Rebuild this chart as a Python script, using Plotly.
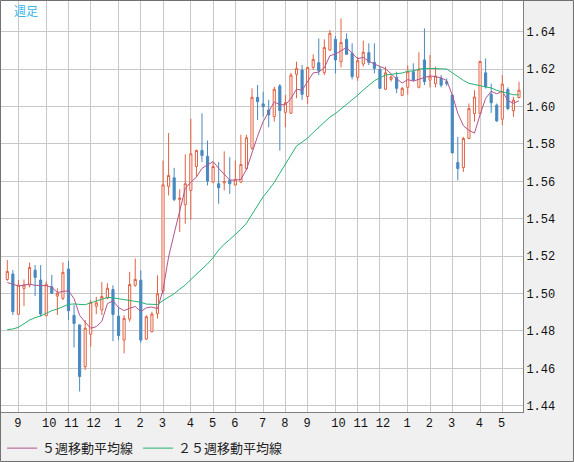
import pandas as pd
import plotly.graph_objects as go

# weekly candles (oldest first)
opens = [1.5075, 1.5104, 1.4889, 1.5027, 1.5045, 1.5125, 1.5072, 1.4881, 1.5036, 1.4986,
         1.4974, 1.5131, 1.4883, 1.4832, 1.4609, 1.4782, 1.4932, 1.4912, 1.4975, 1.5021,
         1.4879, 1.4751, 1.4863, 1.5044, 1.5071, 1.4756, 1.4796, 1.4892, 1.5013, 1.5573,
         1.5619, 1.5503, 1.5475, 1.5551, 1.5679, 1.5765, 1.5733, 1.5596, 1.5587, 1.5592,
         1.5605, 1.5580, 1.5596, 1.5667, 1.5777, 1.6049, 1.6014, 1.5981, 1.5946, 1.6110,
         1.5969, 1.5964, 1.6172, 1.6195, 1.6053, 1.6209, 1.6234, 1.6181, 1.6302, 1.6359,
         1.6240, 1.6359, 1.6284, 1.6156, 1.6227, 1.6288, 1.6236, 1.6199, 1.6092, 1.6145,
         1.6156, 1.6060, 1.6103, 1.6186, 1.6103, 1.6249, 1.6141, 1.6123, 1.6150, 1.6132,
         1.6061, 1.5700, 1.5673, 1.5829, 1.5962, 1.5962, 1.6180, 1.6066, 1.6007, 1.5932,
         1.6091, 1.5977, 1.6048]
highs = [1.5179, 1.5125, 1.5072, 1.5075, 1.5166, 1.5152, 1.5152, 1.5065, 1.5099, 1.5027,
         1.5166, 1.5175, 1.4938, 1.4835, 1.4858, 1.4965, 1.4982, 1.5061, 1.5055, 1.5044,
         1.4929, 1.4884, 1.5116, 1.5187, 1.5124, 1.4884, 1.4902, 1.5097, 1.5711, 1.5858,
         1.5672, 1.5557, 1.5744, 1.5934, 1.5770, 1.5964, 1.5818, 1.5702, 1.5703, 1.5760,
         1.5729, 1.5711, 1.5849, 1.5849, 1.6097, 1.6115, 1.6079, 1.6035, 1.6106, 1.6120,
         1.6062, 1.6180, 1.6240, 1.6222, 1.6212, 1.6279, 1.6364, 1.6359, 1.6409, 1.6377,
         1.6471, 1.6391, 1.6338, 1.6266, 1.6352, 1.6338, 1.6338, 1.6213, 1.6213, 1.6168,
         1.6186, 1.6106, 1.6220, 1.6231, 1.6290, 1.6418, 1.6275, 1.6213, 1.6168, 1.6150,
         1.6065, 1.5837, 1.5837, 1.6016, 1.6087, 1.6245, 1.6257, 1.6123, 1.6016, 1.6168,
         1.6102, 1.6052, 1.6132]
lows = [1.5068, 1.4885, 1.4885, 1.4933, 1.5033, 1.4986, 1.4876, 1.4880, 1.4997, 1.4885,
        1.4965, 1.4858, 1.4711, 1.4476, 1.4591, 1.4716, 1.4890, 1.4885, 1.4970, 1.4745,
        1.4751, 1.4680, 1.4849, 1.5036, 1.4737, 1.4751, 1.4792, 1.4866, 1.4995, 1.5524,
        1.5494, 1.5329, 1.5373, 1.5394, 1.5622, 1.5703, 1.5578, 1.5590, 1.5480, 1.5551,
        1.5533, 1.5578, 1.5590, 1.5660, 1.5768, 1.5928, 1.5946, 1.5889, 1.5919, 1.5764,
        1.5889, 1.5960, 1.6044, 1.6035, 1.6014, 1.6195, 1.6168, 1.6168, 1.6298, 1.6177,
        1.6209, 1.6275, 1.6145, 1.6138, 1.6213, 1.6222, 1.6177, 1.6094, 1.6088, 1.6133,
        1.6071, 1.6055, 1.6064, 1.6133, 1.6097, 1.6115, 1.6102, 1.6102, 1.6102, 1.6110,
        1.5750, 1.5605, 1.5650, 1.5825, 1.5919, 1.5958, 1.6096, 1.5966, 1.5918, 1.5900,
        1.5980, 1.5945, 1.6043]
closes = [1.5118, 1.4903, 1.5045, 1.5045, 1.5139, 1.5086, 1.4890, 1.5049, 1.5001, 1.5001,
          1.5113, 1.4908, 1.4840, 1.4556, 1.4814, 1.4953, 1.4950, 1.4984, 1.5028, 1.4888,
          1.4775, 1.4867, 1.5048, 1.5075, 1.4751, 1.4876, 1.4890, 1.4999, 1.5581, 1.5631,
          1.5503, 1.5510, 1.5587, 1.5747, 1.5765, 1.5738, 1.5601, 1.5679, 1.5565, 1.5598,
          1.5587, 1.5608, 1.5690, 1.5833, 1.6049, 1.6026, 1.5999, 1.5955, 1.6092, 1.5978,
          1.6021, 1.6168, 1.6204, 1.6065, 1.6209, 1.6252, 1.6192, 1.6316, 1.6391, 1.6249,
          1.6343, 1.6279, 1.6160, 1.6245, 1.6290, 1.6236, 1.6204, 1.6097, 1.6180, 1.6158,
          1.6097, 1.6097, 1.6186, 1.6142, 1.6200, 1.6133, 1.6159, 1.6163, 1.6114, 1.6123,
          1.5752, 1.5668, 1.5829, 1.5989, 1.6051, 1.6241, 1.6105, 1.6020, 1.5923, 1.6120,
          1.5989, 1.6034, 1.6087]

# averages at the left edge need weeks that are off screen, so read them off the chart
ma5_head = [1.5059, 1.5049, 1.5040, 1.5045]
ma25_head = [1.4807, 1.4810, 1.4819, 1.4840, 1.4858, 1.4871, 1.4880, 1.4894, 1.4908, 1.4917,
             1.4929, 1.4942, 1.4944, 1.4942, 1.4940, 1.4950, 1.4959, 1.4972, 1.4979, 1.4977,
             1.4973, 1.4968, 1.4964, 1.4959]

# first week of each month
month_weeks = [2, 7, 11, 15, 20, 24, 28, 33, 37, 41, 46, 50, 54, 59, 63, 67, 72, 76, 80, 85, 89]
month_labels = ['9', '10', '11', '12', '1', '2', '3', '4', '5', '6', '7', '8',
                '9', '10', '11', '12', '1', '2', '3', '4', '5']
price_ticks = [1.44, 1.46, 1.48, 1.50, 1.52, 1.54, 1.56, 1.58, 1.60, 1.62, 1.64]


df = pd.DataFrame({'Open': opens, 'High': highs, 'Low': lows, 'Close': closes})
df['MA5'] = df.Close.rolling(5).mean()
df['MA25'] = df.Close.rolling(25).mean()
df.loc[:len(ma5_head) - 1, 'MA5'] = ma5_head
df.loc[:len(ma25_head) - 1, 'MA25'] = ma25_head
x = list(range(len(df)))

UP = 'rgb(226,98,66)'
DOWN = 'rgb(72,136,192)'

fig = go.Figure()
fig.add_trace(go.Candlestick(x=x, open=df.Open, high=df.High, low=df.Low, close=df.Close,
                             increasing=dict(line=dict(color=UP, width=1), fillcolor='white'),
                             decreasing=dict(line=dict(color=DOWN, width=1), fillcolor=DOWN),
                             showlegend=False))
fig.add_trace(go.Scatter(name='５週移動平均線', x=x, y=df.MA5, mode='lines',
                         line=dict(color='rgb(178,84,142)', width=1)))
fig.add_trace(go.Scatter(name='２５週移動平均線', x=x, y=df.MA25, mode='lines',
                         line=dict(color='rgb(36,178,110)', width=1)))

fig.add_annotation(text='週足', xref='paper', yref='paper', x=0.021, y=0.977,
                   xanchor='left', yanchor='middle', showarrow=False,
                   font=dict(family='Noto Sans CJK JP', size=12, color='rgb(56,182,234)'))

# outer frame of the widget
fig.add_shape(type='rect', xref='paper', yref='paper', x0=-0.001, x1=1.0967, y0=-0.1204, y1=1.0012,
              line=dict(color='#707070', width=1))

fig.update_layout(
    width=574, height=462, margin=dict(l=1, r=51, t=1, b=50, autoexpand=False),
    paper_bgcolor='#f0f0f0', plot_bgcolor='white', boxgap=0.45,
    showlegend=True,
    legend=dict(orientation='h', x=0.002, y=-0.088, xanchor='left', yanchor='middle',
                font=dict(family='Noto Sans CJK JP', size=13, color='#222222'),
                bgcolor='rgba(0,0,0,0)', itemclick=False),
    xaxis=dict(range=[-1.133, 92.72], tickvals=month_weeks,
               ticktext=[t if len(t) == 2 else t + ' ' for t in month_labels],
               ticklabelshift=3, showgrid=True, gridcolor='#c8c8c8', zeroline=False,
               showline=True, linecolor='#808080', ticks='', rangeslider_visible=False,
               tickfont=dict(family='Liberation Mono', size=12, color='#111111')),
    yaxis=dict(range=[1.43663, 1.65642], side='right', tickvals=price_ticks,
               ticktext=['%.2f' % v for v in price_ticks], showgrid=True, gridcolor='#c8c8c8',
               zeroline=False, showline=True, linecolor='#808080', ticks='',
               tickfont=dict(family='Liberation Mono', size=12, color='#111111')),
)

# the page's default body margin would push the 574x462 figure out of the window
fig.write_html("out.html", config={'displayModeBar': False},
               post_script="document.body.style.margin='0';")
